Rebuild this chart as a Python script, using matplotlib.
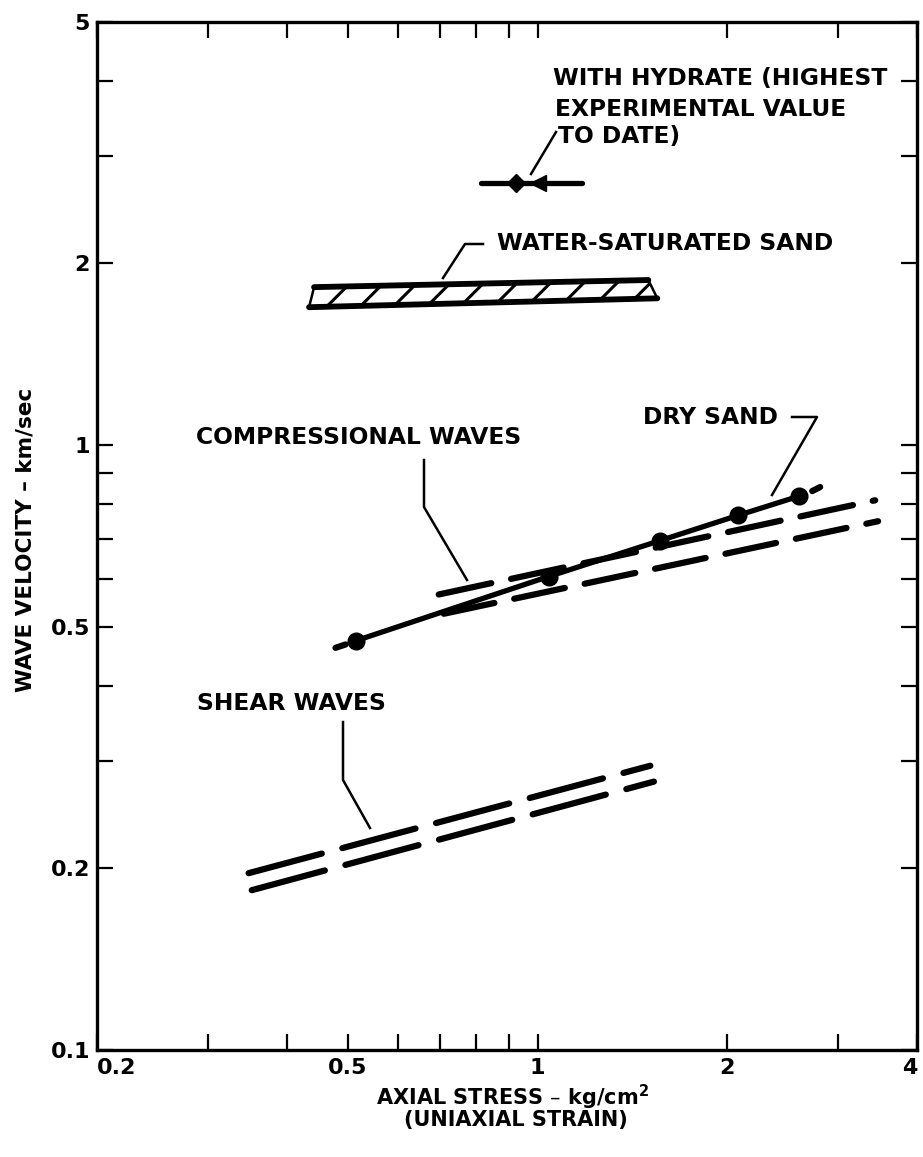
import numpy as np
import matplotlib
matplotlib.use("Agg")
import matplotlib.pyplot as plt
from matplotlib.lines import Line2D
from matplotlib.ticker import FixedLocator, FixedFormatter, NullLocator

# --- data (log-log axes) ---
hydrate_x = [0.812, 1.178]
hydrate_y = [2.71, 2.71]
hydrate_mark_x = [0.923, 1.003]

wsat_top_x = [0.442, 1.499]
wsat_top_y = [1.823, 1.873]
wsat_bot_x = [0.434, 1.549]
wsat_bot_y = [1.689, 1.747]

dry_x = [0.516, 1.041, 1.566, 2.082, 2.601]
dry_y = [0.475, 0.606, 0.695, 0.765, 0.823]
dry_ext_lo_x = [0.478, 0.496]
dry_ext_lo_y = [0.462, 0.468]
dry_ext_hi_x = [2.728, 2.808]
dry_ext_hi_y = [0.839, 0.852]

comp_up_x = [0.697, 3.433]
comp_up_y = [0.566, 0.810]
comp_lo_x = [0.710, 3.47]
comp_lo_y = [0.526, 0.748]

shear_up_x = [0.348, 1.510]
shear_up_y = [0.196, 0.295]
shear_lo_x = [0.352, 1.530]
shear_lo_y = [0.1837, 0.2777]

xticks = [0.2, 0.3, 0.4, 0.5, 0.6, 0.7, 0.8, 0.9, 1, 2, 3, 4]
xlabels = ["0.2", "", "", "0.5", "", "", "", "", "1", "2", "", "4"]
yticks = [0.1, 0.2, 0.3, 0.4, 0.5, 0.6, 0.7, 0.8, 0.9, 1, 2, 3, 4, 5]
ylabels = ["0.1", "0.2", "", "", "0.5", "", "", "", "", "1", "2", "", "", "5"]

W, H = 923, 1157
fig = plt.figure(figsize=(W / 100, H / 100), dpi=100)
ax = fig.add_axes([97 / W, 1 - 1050 / H, (917 - 97) / W, (1050 - 22) / H])
ax.set_xscale("log")
ax.set_yscale("log")
ax.set_xlim(0.2, 4)
ax.set_ylim(0.1, 5)

for s in ax.spines.values():
    s.set_linewidth(2.4)

ax.xaxis.set_major_locator(FixedLocator(xticks))
ax.xaxis.set_major_formatter(FixedFormatter(xlabels))
ax.xaxis.set_minor_locator(NullLocator())
ax.yaxis.set_major_locator(FixedLocator(yticks))
ax.yaxis.set_major_formatter(FixedFormatter(ylabels))
ax.yaxis.set_minor_locator(NullLocator())
ax.tick_params(which="both", direction="in", length=11.5, width=1.6,
               top=True, right=True, labelsize=16)
ax.tick_params(axis="x", pad=6)
ax.tick_params(axis="y", pad=5)
for lab in ax.get_xticklabels() + ax.get_yticklabels():
    lab.set_fontweight("bold")
ax.get_xticklabels()[0].set_horizontalalignment("left")
ax.get_xticklabels()[-1].set_horizontalalignment("right")

LW = 4.5

def dashed(x, y, dash_px, gap_px):
    ln, = ax.plot(x, y, color="black", lw=LW, solid_capstyle="round",
                  dash_capstyle="round")
    k = 100 / 72 * LW
    ln.set_dashes((dash_px / k - 1, gap_px / k + 1))
    return ln

# hydrate
ax.plot(hydrate_x, hydrate_y, color="black", lw=3.8, solid_capstyle="round")
ax.plot(hydrate_mark_x[0], hydrate_y[0], marker="D", ms=9, color="black")
ax.plot(hydrate_mark_x[1], hydrate_y[0], marker="<", ms=11, color="black")

# water-saturated sand band
plt.rcParams["hatch.linewidth"] = 2.2
poly_x = wsat_top_x + wsat_bot_x[::-1]
poly_y = wsat_top_y + wsat_bot_y[::-1]
ax.fill(poly_x, poly_y, facecolor="none", edgecolor="black", hatch="/", lw=1.8)
ax.plot(wsat_top_x, wsat_top_y, color="black", lw=4.2, solid_capstyle="round")
ax.plot(wsat_bot_x, wsat_bot_y, color="black", lw=4.2, solid_capstyle="round")

# compressional and shear waves (dashed)
dashed(comp_up_x, comp_up_y, 60, 14)
dashed(comp_lo_x, comp_lo_y, 58, 14)
dashed(shear_up_x, shear_up_y, 82, 15)
dashed(shear_lo_x, shear_lo_y, 82, 15)

# dry sand
ax.plot(dry_x, dry_y, color="black", lw=3.8, marker="o", ms=12,
        solid_capstyle="round")
ax.plot(dry_ext_lo_x, dry_ext_lo_y, color="black", lw=LW, solid_capstyle="round")
ax.plot(dry_ext_hi_x, dry_ext_hi_y, color="black", lw=LW, solid_capstyle="round")

# annotations (positions in reference pixels)
def P(x, y):
    return x / W, 1 - y / H

tk = dict(fontsize=16.8, fontweight="bold", va="center", ha="left",
          transform=fig.transFigure)
fig.text(*P(553, 79), "WITH HYDRATE (HIGHEST", **tk)
fig.text(*P(555, 110), "EXPERIMENTAL VALUE", **tk)
fig.text(*P(558, 137), "TO DATE)", **tk)
fig.text(*P(497, 244), "WATER-SATURATED SAND", **tk)
fig.text(*P(643, 417), "DRY SAND", **tk)
tk["ha"] = "right"
fig.text(*P(521, 438), "COMPRESSIONAL WAVES", **tk)
fig.text(*P(386, 703), "SHEAR WAVES", **tk)

def leader(pts):
    xs = [p[0] / W for p in pts]
    ys = [1 - p[1] / H for p in pts]
    fig.add_artist(Line2D(xs, ys, color="black", lw=1.8,
                          transform=fig.transFigure))

leader([(556, 132), (531, 174)])
leader([(483, 244), (465, 244), (443, 278)])
leader([(792, 417), (817, 417), (772, 495)])
leader([(424, 460), (424, 507), (467, 580)])
leader([(343, 722), (343, 780), (370, 828)])

fig.text(*P(26, 540), "WAVE VELOCITY \u2013 km/sec", rotation=90,
         fontsize=15.5, fontweight="bold", ha="center", va="center",
         transform=fig.transFigure)
fig.text(*P(513, 1097), "AXIAL STRESS \u2013 kg/cm$^\\mathbf{2}$", fontsize=15,
         fontweight="bold", ha="center", va="center", transform=fig.transFigure)
fig.text(*P(516, 1120), "(UNIAXIAL STRAIN)", fontsize=15,
         fontweight="bold", ha="center", va="center", transform=fig.transFigure)

fig.savefig("out.png", dpi=100)
